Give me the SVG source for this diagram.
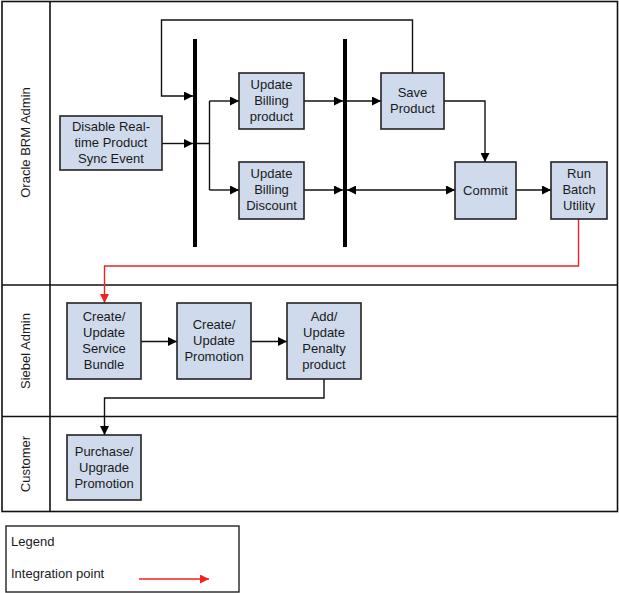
<svg xmlns="http://www.w3.org/2000/svg" width="619" height="593" viewBox="0 0 619 593">
<defs>
<style>
text{font-family:"Liberation Sans",Arial,sans-serif;font-size:13px;fill:#1a1a1a}
.n text{text-anchor:middle}
.n rect{fill:#cfdaec;stroke:#222;stroke-width:1.6}
.lane{fill:none;stroke:#111;stroke-width:1.6}
.e{fill:none;stroke:#111;stroke-width:1.4}
.r{fill:none;stroke:#ee2222;stroke-width:1.4}
.bar{stroke:#000;stroke-width:4}
</style>
<marker id="a" viewBox="0 0 10 10" refX="10" refY="5" markerWidth="9" markerHeight="9" markerUnits="userSpaceOnUse" orient="auto"><path d="M0,0L10,5L0,10z" fill="#000"/></marker>
<marker id="as" viewBox="0 0 10 10" refX="0" refY="5" markerWidth="9" markerHeight="9" markerUnits="userSpaceOnUse" orient="auto"><path d="M10,0L0,5L10,10z" fill="#000"/></marker>
<marker id="ar" viewBox="0 0 10 10" refX="10" refY="5" markerWidth="9" markerHeight="9" markerUnits="userSpaceOnUse" orient="auto"><path d="M0,0L10,5L0,10z" fill="#ee2222"/></marker>
</defs>
<g id="lanes">
<rect class="lane" x="2" y="1.5" width="615.5" height="510"/>
<line class="lane" x1="50" y1="1.5" x2="50" y2="511.5"/>
<line class="lane" x1="2" y1="285" x2="617.5" y2="285"/>
<line class="lane" x1="2" y1="416.5" x2="617.5" y2="416.5"/>
<text transform="translate(30,142.5) rotate(-90)" text-anchor="middle">Oracle BRM Admin</text>
<text transform="translate(30,351) rotate(-90)" text-anchor="middle">Siebel Admin</text>
<text transform="translate(30,464) rotate(-90)" text-anchor="middle">Customer</text>
</g>
<g id="bars">
<line class="bar" x1="195" y1="39" x2="195" y2="247"/>
<line class="bar" x1="345" y1="39" x2="345" y2="247"/>
</g>
<g id="connectors">
<path class="e" d="M162,143.5H193" marker-end="url(#a)"/>
<path class="e" d="M412.5,73V20H161.5V96H193" marker-end="url(#a)"/>
<path class="e" d="M197,143.5H209.5M209.5,101V190"/>
<path class="e" d="M209.5,101H239" marker-end="url(#a)"/>
<path class="e" d="M209.5,190H239" marker-end="url(#a)"/>
<path class="e" d="M304,101H343" marker-end="url(#a)"/>
<path class="e" d="M347,101H381" marker-end="url(#a)"/>
<path class="e" d="M304,190H343" marker-end="url(#a)"/>
<path class="e" d="M347,190H455" marker-start="url(#as)" marker-end="url(#a)"/>
<path class="e" d="M444,101H485V162" marker-end="url(#a)"/>
<path class="e" d="M516,190H551" marker-end="url(#a)"/>
<path class="r" d="M578.5,219V266H104.5V303" marker-end="url(#ar)"/>
<path class="e" d="M141,341.5H177" marker-end="url(#a)"/>
<path class="e" d="M251,341.5H287" marker-end="url(#a)"/>
<path class="e" d="M324,379V398H104.5V435" marker-end="url(#a)"/>
</g>
<g id="disable" class="n"><rect x="60" y="116" width="102" height="54"/><text x="111" y="131">Disable Real-</text><text x="111" y="147">time Product</text><text x="111" y="163">Sync Event</text></g>
<g id="updBillProd" class="n"><rect x="239" y="73" width="65" height="56"/><text x="271.5" y="89">Update</text><text x="271.5" y="105">Billing</text><text x="271.5" y="121">product</text></g>
<g id="updBillDisc" class="n"><rect x="239" y="162" width="65" height="57"/><text x="271.5" y="178">Update</text><text x="271.5" y="194">Billing</text><text x="271.5" y="210">Discount</text></g>
<g id="saveProduct" class="n"><rect x="381" y="73" width="63" height="56"/><text x="412.5" y="97">Save</text><text x="412.5" y="113">Product</text></g>
<g id="commit" class="n"><rect x="455" y="162" width="61" height="57"/><text x="485.5" y="194.5">Commit</text></g>
<g id="runBatch" class="n"><rect x="551" y="162" width="56" height="57"/><text x="579" y="178">Run</text><text x="579" y="194">Batch</text><text x="579" y="210">Utility</text></g>
<g id="svcBundle" class="n"><rect x="67" y="303" width="74" height="76"/><text x="104" y="321">Create/</text><text x="104" y="337">Update</text><text x="104" y="353">Service</text><text x="104" y="369">Bundle</text></g>
<g id="promo" class="n"><rect x="177" y="303" width="74" height="76"/><text x="214" y="329">Create/</text><text x="214" y="345">Update</text><text x="214" y="361">Promotion</text></g>
<g id="penalty" class="n"><rect x="287" y="303" width="74" height="76"/><text x="324" y="321">Add/</text><text x="324" y="337">Update</text><text x="324" y="353">Penalty</text><text x="324" y="369">product</text></g>
<g id="purchase" class="n"><rect x="67" y="435" width="74" height="65"/><text x="104" y="456">Purchase/</text><text x="104" y="472">Upgrade</text><text x="104" y="488">Promotion</text></g>
<g id="legend">
<rect x="6" y="526" width="233" height="66" fill="#fff" stroke="#222" stroke-width="1.4"/>
<text x="11" y="546">Legend</text>
<text x="11" y="578">Integration point</text>
<path class="r" d="M139,579H209" marker-end="url(#ar)"/>
</g>
</svg>
